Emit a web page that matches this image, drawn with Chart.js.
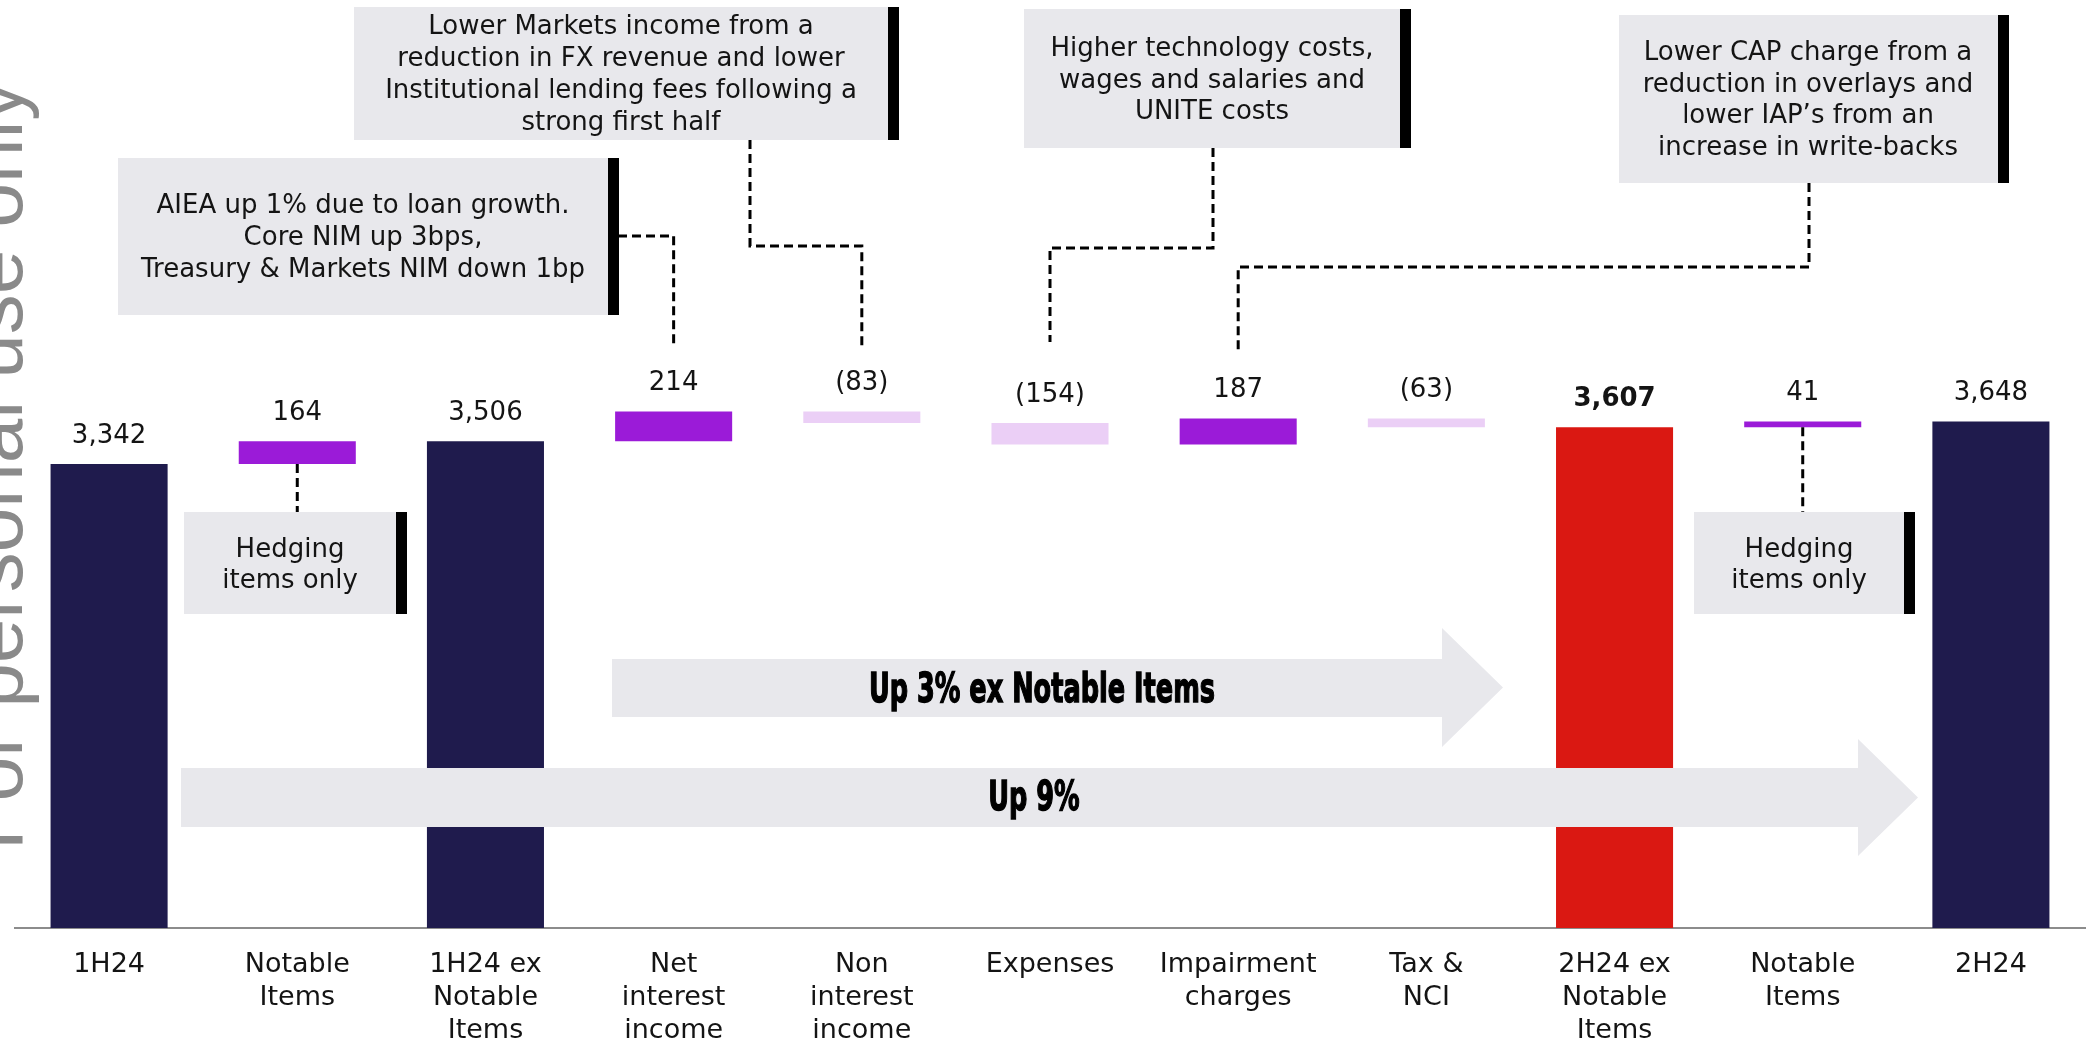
<!DOCTYPE html>
<html>
<head>
<meta charset="utf-8">
<script src="https://cdn.jsdelivr.net/npm/chart.js@4.4.1/dist/chart.umd.min.js"></script>
<style>
  html, body { margin: 0; padding: 0; background: #fff; overflow: hidden; }
  canvas { display: block; }
</style>
</head>
<body>
<canvas id="bridge" width="2087" height="1041"></canvas>
<script>
// cash earnings bridge, 1H24 to 2H24 ($m)
const categories = [
  ['1H24'], ['Notable', 'Items'], ['1H24 ex', 'Notable', 'Items'],
  ['Net', 'interest', 'income'], ['Non', 'interest', 'income'], ['Expenses'],
  ['Impairment', 'charges'], ['Tax &', 'NCI'], ['2H24 ex', 'Notable', 'Items'],
  ['Notable', 'Items'], ['2H24']
]
const moves = [3342, 164, 3506, 214, -83, -154, 187, -63, 3607, 41, 3648]
const subtotals = [0, 2, 8, 10]
const highlighted = 8

const NAVY = '#1f1b4d', RED = '#da1812', PURPLE = '#9b1bd8', LILAC = '#ebcff6'
const PANEL = '#e8e8ec', INK = '#141414'
const FONT = '"DejaVu Sans", "Liberation Sans", sans-serif'

const fmt = v => {
  const s = Math.abs(v).toLocaleString('en-US')
  return v < 0 ? `(${s})` : s
}

// floating bars: subtotals start at zero, the rest hang off the running total
let running = 0
const ranges = moves.map((v, i) => {
  if (subtotals.includes(i)) { running = v; return [0, v] }
  const r = [running, running + v]
  running += v
  return r
})
const colours = moves.map((v, i) => {
  if (subtotals.includes(i)) return i === highlighted ? RED : NAVY
  return v >= 0 ? PURPLE : LILAC
})

// commentary boxes; link = start point, elbow height, category it points at, end height
const notes = [
  { box: [118, 158, 608, 315], cx: 363, base: 213, step: 32,
    lines: ['AIEA up 1% due to loan growth.', 'Core NIM up 3bps,', 'Treasury & Markets NIM down 1bp'],
    link: { x: 618, y: 236, elbow: 236, cat: 3, end: 347 } },
  { box: [354, 7, 888, 140], cx: 621, base: 34, step: 32,
    lines: ['Lower Markets income from a', 'reduction in FX revenue and lower', 'Institutional lending fees following a', 'strong first half'],
    link: { x: 750, y: 140, elbow: 246, cat: 4, end: 349 } },
  { box: [1024, 9, 1400, 148], cx: 1212, base: 56, step: 31.5,
    lines: ['Higher technology costs,', 'wages and salaries and', 'UNITE costs'],
    link: { x: 1213, y: 148, elbow: 248, cat: 5, end: 342 } },
  { box: [1619, 15, 1998, 183], cx: 1808, base: 60, step: 31.7,
    lines: ['Lower CAP charge from a', 'reduction in overlays and', 'lower IAP\u2019s from an', 'increase in write-backs'],
    link: { x: 1809, y: 183, elbow: 267, cat: 6, end: 350 } }
]
const hedges = [
  { cat: 1, box: [184, 512, 396, 614], cx: 290 },
  { cat: 9, box: [1694, 512, 1904, 614], cx: 1799 }
]
const arrows = [
  { x0: 612, x1: 1442, tip: 1503, body: [659, 717], head: [628, 747], text: 'Up 3% ex Notable Items', cx: 1042, base: 702 },
  { x0: 181, x1: 1858, tip: 1918, body: [768, 827], head: [739, 856], text: 'Up 9%', cx: 1034, base: 810 }
]

function panel(ctx, b) {
  ctx.fillStyle = PANEL
  ctx.fillRect(b[0], b[1], b[2] - b[0], b[3] - b[1])
  ctx.fillStyle = '#000'
  ctx.fillRect(b[2], b[1], 11, b[3] - b[1])
}

function dashed(ctx, pts) {
  ctx.save()
  ctx.strokeStyle = '#000'
  ctx.lineWidth = 3
  ctx.setLineDash([9, 5])
  ctx.beginPath()
  pts.forEach((p, i) => i ? ctx.lineTo(p[0], p[1]) : ctx.moveTo(p[0], p[1]))
  ctx.stroke()
  ctx.restore()
}

const decor = {
  id: 'decor',
  beforeDraw(chart) {
    const ctx = chart.ctx
    ctx.save()
    ctx.translate(22, 850)
    ctx.rotate(-Math.PI / 2)
    ctx.fillStyle = '#8a8a8a'
    ctx.font = '80px "Liberation Sans", Arial, sans-serif'
    ctx.textBaseline = 'alphabetic'
    ctx.textAlign = 'left'
    ctx.fillText('For personal use only', 0, 0)
    ctx.restore()
  },
  afterDatasetsDraw(chart) {
    const ctx = chart.ctx
    const xs = chart.scales.x, ys = chart.scales.y

    // growth arrows sit over the bars
    arrows.forEach(a => {
      ctx.fillStyle = PANEL
      ctx.beginPath()
      ctx.moveTo(a.x0, a.body[0])
      ctx.lineTo(a.x1, a.body[0])
      ctx.lineTo(a.x1, a.head[0])
      ctx.lineTo(a.tip, (a.head[0] + a.head[1]) / 2)
      ctx.lineTo(a.x1, a.head[1])
      ctx.lineTo(a.x1, a.body[1])
      ctx.lineTo(a.x0, a.body[1])
      ctx.closePath()
      ctx.fill()

      ctx.save()
      ctx.translate(a.cx, a.base)
      ctx.scale(0.64, 1)
      ctx.fillStyle = '#000'
      ctx.strokeStyle = '#000'
      ctx.lineWidth = 1.5
      ctx.font = 'bold 40px ' + FONT
      ctx.textAlign = 'center'
      ctx.textBaseline = 'alphabetic'
      ctx.fillText(a.text, 0, 0)
      ctx.strokeText(a.text, 0, 0)
      ctx.restore()
    })

    // commentary boxes with their leader lines
    ctx.textAlign = 'center'
    ctx.textBaseline = 'alphabetic'
    notes.forEach(n => {
      const l = n.link, cx = xs.getPixelForValue(l.cat)
      dashed(ctx, [[l.x, l.y], [l.x, l.elbow], [cx, l.elbow], [cx, l.end]])
      panel(ctx, n.box)
      ctx.fillStyle = INK
      ctx.font = '26px ' + FONT
      n.lines.forEach((t, i) => ctx.fillText(t, n.cx, n.base + i * n.step))
    })

    hedges.forEach(h => {
      const cx = xs.getPixelForValue(h.cat)
      dashed(ctx, [[cx, ys.getPixelForValue(Math.min(...ranges[h.cat]))], [cx, h.box[1]]])
      panel(ctx, h.box)
      ctx.fillStyle = INK
      ctx.font = '26px ' + FONT
      ctx.fillText('Hedging', h.cx, 557)
      ctx.fillText('items only', h.cx, 588)
    })

    // value labels above each bar
    ctx.textBaseline = 'middle'
    moves.forEach((v, i) => {
      const top = ys.getPixelForValue(Math.max(...ranges[i]))
      ctx.fillStyle = INK
      ctx.font = (i === highlighted ? 'bold ' : '') + '26px ' + FONT
      ctx.fillText(fmt(v), xs.getPixelForValue(i), top - 28)
    })
  }
}

new Chart(document.getElementById('bridge'), {
  type: 'bar',
  data: {
    labels: categories,
    datasets: [{
      data: ranges,
      backgroundColor: colours,
      borderWidth: 0,
      barPercentage: 0.622,
      categoryPercentage: 1
    }]
  },
  options: {
    responsive: false,
    animation: false,
    devicePixelRatio: 1,
    layout: { padding: { left: 15, right: 2, top: 0, bottom: 0 } },
    plugins: { legend: { display: false }, tooltip: { enabled: false } },
    scales: {
      x: {
        grid: { display: false },
        border: { display: true, color: '#8c8c8c', width: 2 },
        ticks: {
          color: INK,
          padding: 12.5,
          maxRotation: 0,
          autoSkip: false,
          font: { family: FONT, size: 27, lineHeight: 33 / 27 }
        },
        afterFit(scale) { scale.height = 113 }
      },
      y: { display: false, min: 0, max: 6684 }
    }
  },
  plugins: [decor]
})
</script>
</body>
</html>
